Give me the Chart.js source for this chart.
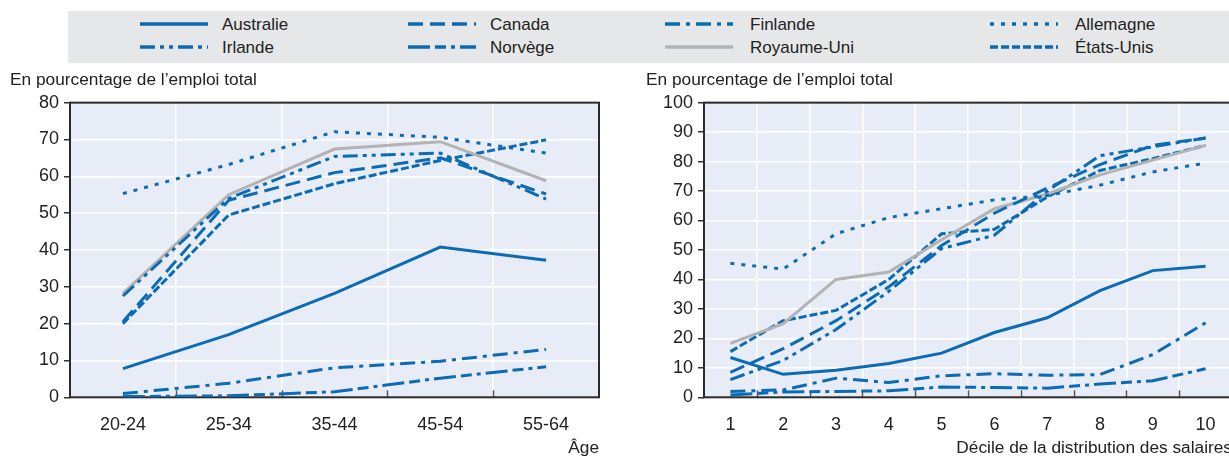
<!DOCTYPE html>
<html><head><meta charset="utf-8">
<script src="https://cdn.jsdelivr.net/npm/chart.js@4"></script>
<style>
html,body{margin:0;padding:0;width:1229px;height:456px;overflow:hidden;background:#fff;font-family:'Liberation Sans',Arial,sans-serif;}
#legend{position:absolute;left:68px;top:11px;width:1161px;height:52px;background:#e6e7e8;}
.item{position:absolute;height:20px;width:250px;font-size:17px;color:#222;line-height:20px;}
.item svg{position:absolute;left:0;top:0;}
.item span{position:absolute;top:0;white-space:nowrap;}
#w1{position:absolute;left:0;top:68px;width:620px;height:391px;}
#w2{position:absolute;left:634px;top:68px;width:610px;height:391px;}
</style>
</head><body>
<div id="legend"></div>
<div id="w1"><canvas id="c1"></canvas></div>
<div id="w2"><canvas id="c2"></canvas></div>
<script>
// ---- data ----
const ageLabels = ['20-24', '25-34', '35-44', '45-54', '55-64'];
const decileLabels = ['1', '2', '3', '4', '5', '6', '7', '8', '9', '10'];
const countryNames = ['Australie', 'Canada', 'Finlande', 'Allemagne', 'Irlande', 'Norvège', 'Royaume-Uni', 'États-Unis'];

// by age (% of total employment)
const ageAustralie  = [7.8, 17.0, 28.2, 40.8, 37.2];
const ageCanada     = [20.5, 53.5, 61.0, 65.0, 55.2];
const ageFinlande   = [1.0, 3.8, 8.0, 9.8, 13.0];
const ageAllemagne  = [55.3, 63.2, 72.1, 70.6, 66.3];
const ageIrlande    = [27.5, 54.0, 65.4, 66.3, 53.8];
const ageNorvege    = [0.2, 0.4, 1.5, 5.2, 8.3];
const ageRoyaumeUni = [28.2, 55.0, 67.4, 69.4, 58.8];
const ageEtatsUnis  = [20.0, 49.5, 58.0, 64.3, 69.9];

// by wage decile (% of total employment)
const decAustralie  = [13.5, 7.8, 9.2, 11.5, 15.0, 22.0, 27.0, 36.2, 43.0, 44.5];
const decCanada     = [8.5, 16.5, 26.0, 37.5, 51.5, 62.5, 71.0, 79.0, 85.5, 88.0];
const decFinlande   = [2.0, 2.5, 6.5, 5.0, 7.3, 8.0, 7.5, 7.7, 14.5, 25.3];
const decAllemagne  = [45.5, 43.5, 55.5, 61.0, 64.0, 67.0, 68.5, 72.0, 76.5, 79.5];
const decIrlande    = [6.0, 12.5, 23.0, 36.0, 50.5, 55.0, 70.0, 82.0, 85.0, 88.0];
const decNorvege    = [0.8, 1.8, 2.0, 2.2, 3.5, 3.3, 3.1, 4.5, 5.6, 9.7];
const decRoyaumeUni = [18.3, 25.0, 40.0, 42.5, 53.5, 64.0, 69.0, 75.5, 80.5, 85.5];
const decEtatsUnis  = [15.5, 26.0, 29.5, 40.0, 55.5, 57.0, 68.0, 77.0, 81.0, 85.5];

const ageTicksMax = 80;
const decTicksMax = 100;
const leftTitle = 'En pourcentage de l\u2019emploi total';
const leftXTitle = '\u00C2ge';
const rightXTitle = 'D\u00E9cile de la distribution des salaires';

// ---- styles ----
const BLUE = '#0b6cb5';
const GREY = '#b3b3b3';
const styles = {
  'Australie':   {color: BLUE, dash: []},
  'Canada':      {color: BLUE, dash: [15, 7]},
  'Finlande':    {color: BLUE, dash: [15, 6, 4, 6]},
  'Allemagne':   {color: BLUE, dash: [4, 7]},
  'Irlande':     {color: BLUE, dash: [15, 5, 4, 5, 4, 5]},
  'Norvège':     {color: BLUE, dash: [22, 5, 11, 5, 4, 5]},
  'Royaume-Uni': {color: GREY, dash: []},
  'États-Unis':  {color: BLUE, dash: [8, 3]}
};
const ageSeries = [ageAustralie, ageCanada, ageFinlande, ageAllemagne, ageIrlande, ageNorvege, ageRoyaumeUni, ageEtatsUnis];
const decSeries = [decAustralie, decCanada, decFinlande, decAllemagne, decIrlande, decNorvege, decRoyaumeUni, decEtatsUnis];

// ---- legend ----
const legendCols = [72, 340, 597, 922];
const legendRows = [4, 27];
const legendEl = document.getElementById('legend');
countryNames.forEach((name, i) => {
  const col = i % 4, row = Math.floor(i / 4);
  const st = styles[name];
  const d = document.createElement('div');
  d.className = 'item';
  d.style.left = legendCols[col] + 'px';
  d.style.top = legendRows[row] + 'px';
  d.innerHTML = '<svg width="70" height="20"><line x1="0" y1="9" x2="68" y2="9" stroke="' + st.color +
    '" stroke-width="3.5" stroke-dasharray="' + (st.dash.length ? st.dash.join(' ') : 'none') + '"/></svg>' +
    '<span style="left:' + (col < 2 ? 82 : 85) + 'px">' + name + '</span>';
  legendEl.appendChild(d);
});

// ---- plugins ----
const framePlugin = {
  id: 'frame',
  beforeDraw(chart) {
    const {ctx, chartArea: a} = chart;
    ctx.save();
    ctx.fillStyle = '#e8ecf6';
    ctx.fillRect(a.left, a.top, a.width, a.height);
    ctx.restore();
  },
  beforeDatasetsDraw(chart) {
    const {ctx, chartArea: a} = chart;
    const xs = chart.scales.x;
    const n = xs.ticks.length;
    const w = (xs.right - xs.left) / n;
    ctx.save();
    ctx.strokeStyle = '#555';
    ctx.lineWidth = 1.5;
    for (let i = 1; i < n; i++) {
      const px = Math.round(xs.left + i * w) + 0.5;
      ctx.beginPath();
      ctx.moveTo(px, a.bottom);
      ctx.lineTo(px, a.bottom - 7);
      ctx.stroke();
    }
    ctx.strokeStyle = '#2b2b2b';
    ctx.lineWidth = 2;
    ctx.strokeRect(a.left, a.top, a.width, a.height);
    ctx.restore();
  }
};

const FONT = "'Liberation Sans',Arial,sans-serif";
Chart.defaults.font.family = FONT;
Chart.defaults.font.size = 18;
Chart.defaults.color = '#222';

function makeChart(id, labels, series, yMax, xTitle, padL, padR, yWidth) {
  return new Chart(document.getElementById(id), {
    type: 'line',
    data: {
      labels: labels,
      datasets: countryNames.map((name, i) => ({
        label: name,
        data: series[i],
        borderColor: styles[name].color,
        borderDash: styles[name].dash,
        borderWidth: 3,
        borderCapStyle: 'butt',
        pointRadius: 0,
        tension: 0,
        fill: false
      }))
    },
    options: {
      responsive: true,
      maintainAspectRatio: false,
      animation: false,
      layout: {padding: {left: padL, right: padR, top: 0, bottom: 0}},
      plugins: {
        legend: {display: false},
        tooltip: {enabled: false},
        title: {
          display: true,
          text: leftTitle,
          align: 'start',
          color: '#222',
          font: {size: 17.3, weight: 'normal', family: FONT},
          padding: {top: 1.6, bottom: 12.3}
        }
      },
      scales: {
        x: {
          offset: true,
          grid: {offset: true, color: '#ffffff', lineWidth: 1.5, drawTicks: false},
          border: {display: false},
          ticks: {padding: 17, color: '#222', font: {size: 18}},
          title: {display: true, text: xTitle, align: 'end', color: '#222', font: {size: 17.3}, padding: {top: 0, bottom: 0}},
          afterFit(s) { s.height = 61.7; }
        },
        y: {
          min: 0, max: yMax,
          ticks: {stepSize: 10, padding: 5, color: '#222', font: {size: 18}},
          grid: {color: '#ffffff', lineWidth: 1.5, tickColor: '#333', tickLength: 6, drawTicks: true},
          border: {display: false},
          afterFit(s) { s.width = yWidth; }
        }
      }
    },
    plugins: [framePlugin]
  });
}

makeChart('c1', ageLabels, ageSeries, ageTicksMax, leftXTitle, 10, 21, 60);
makeChart('c2', decileLabels, decSeries, decTicksMax, rightXTitle, 12, 12, 58);
</script>
</body></html>
